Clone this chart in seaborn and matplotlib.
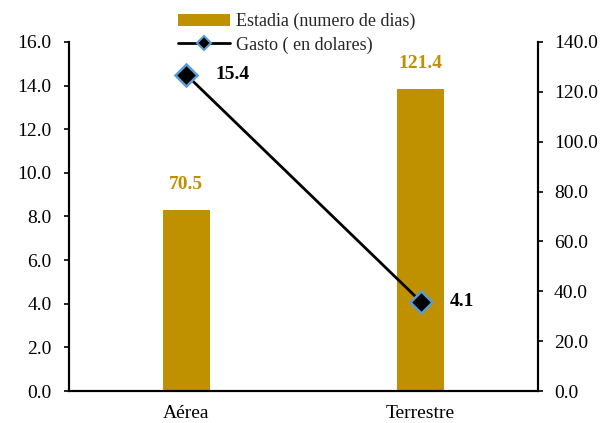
import matplotlib
matplotlib.use("Agg")
import matplotlib.pyplot as plt
import seaborn as sns
import pandas as pd
import numpy as np
from matplotlib.lines import Line2D
from matplotlib.patches import Patch

categories = ["Aérea", "Terrestre"]
estadia = [72.6, 121.2]          # bar heights as drawn (right axis)
estadia_labels = ["70.5", "121.4"]
gasto = [14.5, 4.1]              # line values as drawn (left axis)
gasto_labels = ["15.4", "4.1"]
left_ticks = [0, 2, 4, 6, 8, 10, 12, 14, 16]
right_ticks = [0, 20, 40, 60, 80, 100, 120, 140]

sns.set_theme(style="white")
plt.rcParams["font.family"] = ["Liberation Serif", "DejaVu Serif"]

bar_color = "#BF9000"
df_bar = pd.DataFrame({"cat": categories, "val": estadia})
df_line = pd.DataFrame({"pos": np.arange(len(categories)), "val": gasto})

fig = plt.figure(figsize=(6.13, 4.23), dpi=100)
ax = fig.add_axes([69/613, 32/423, 469/613, 349/423])

sns.barplot(data=df_bar, x="cat", y="val", ax=ax, color=bar_color,
            width=0.2, saturation=1, edgecolor="none")
ax.set_xlim(-0.5, 1.5)
ax.set_ylim(0, 140)
ax.set_xlabel("")
ax.set_ylabel("")

ax2 = ax.twinx()
sns.lineplot(data=df_line, x="pos", y="val", ax=ax2, color="black", lw=2,
             marker="D", markersize=11, markerfacecolor="black",
             markeredgecolor="#5B9BD5", markeredgewidth=1.8)
ax2.set_ylim(0, 16)
ax2.set_xlim(-0.5, 1.5)
ax2.set_ylabel("")
ax2.set_xlabel("")

# bars axis -> right side; line axis -> left side
ax.yaxis.tick_right()
ax.yaxis.set_label_position("right")
ax.set_yticks(right_ticks)
ax.set_yticklabels([f"{v:.1f}" for v in right_ticks])
ax2.yaxis.tick_left()
ax2.yaxis.set_label_position("left")
ax2.set_yticks(left_ticks)
ax2.set_yticklabels([f"{v:.1f}" for v in left_ticks])

for a in (ax, ax2):
    a.spines["top"].set_visible(False)
    for s in ["left", "right", "bottom"]:
        a.spines[s].set_color("black")
        a.spines[s].set_linewidth(1.5)
ax.tick_params(axis="y", which="both", right=True, left=False, labelright=True,
               labelleft=False, direction="out", length=3.5, width=1.2,
               colors="black", labelsize=14, pad=8)
ax2.tick_params(axis="y", which="both", left=True, right=False, labelleft=True,
                labelright=False, direction="out", length=3.5, width=1.2,
                colors="black", labelsize=14, pad=9)
ax.tick_params(axis="x", bottom=False, labelsize=14, colors="black", pad=4)
ax2.tick_params(axis="x", bottom=False, labelbottom=False)

for i, (v, lab) in enumerate(zip(estadia, estadia_labels)):
    ax.annotate(lab, (i, v), xytext=(0, 12), textcoords="offset points",
                ha="center", va="bottom", fontsize=14, fontweight="bold",
                color=bar_color)
for i, (v, lab) in enumerate(zip(gasto, gasto_labels)):
    ax2.annotate(lab, (i, v), xytext=(21, 0), textcoords="offset points",
                 ha="left", va="center", fontsize=14, fontweight="bold",
                 color="black")

handles = [Patch(facecolor=bar_color, edgecolor="none"),
           Line2D([0], [0], color="black", lw=2, marker="D", markersize=7,
                  markerfacecolor="black", markeredgecolor="#5B9BD5",
                  markeredgewidth=1.5)]
fig.legend(handles, ["Estadia (numero de dias)", "Gasto ( en dolares)"],
           loc="upper left", bbox_to_anchor=(178/613, 1 - 13/423), frameon=False,
           fontsize=13, handlelength=2.9, handletextpad=0.3, labelspacing=0.33,
           borderaxespad=0, borderpad=0)

fig.savefig("out.png", dpi=100)
